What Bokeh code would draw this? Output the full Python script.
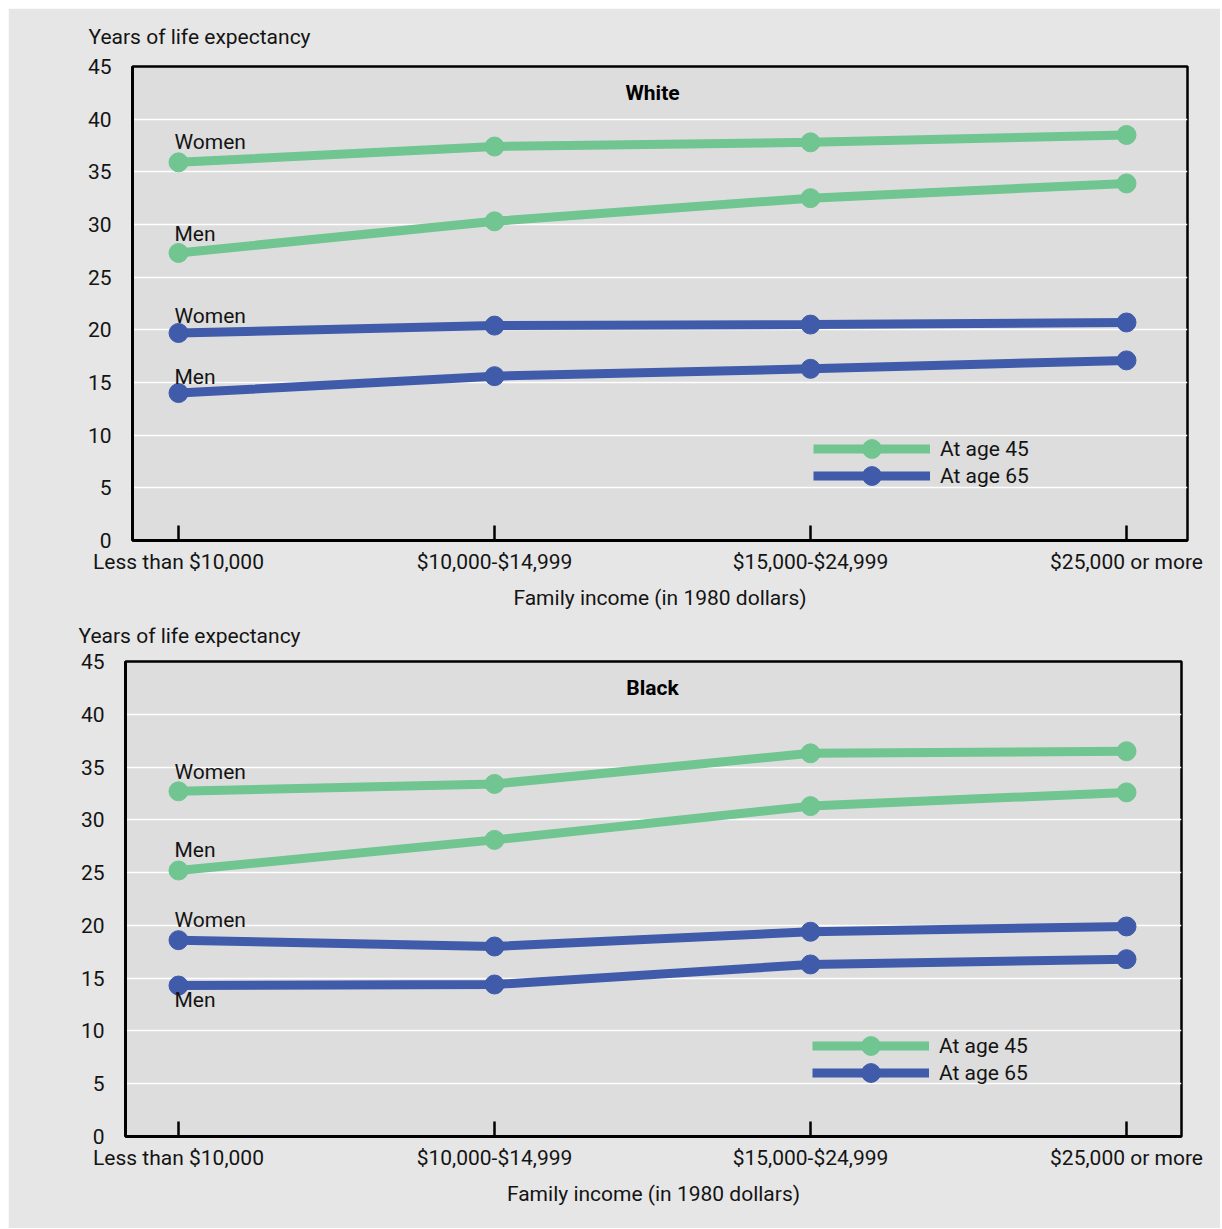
from bokeh.plotting import figure
from bokeh.models import Range1d, FixedTicker, ColumnDataSource, Label, Legend, LegendItem
from bokeh.core.properties import value
from bokeh.embed import file_html
from bokeh.resources import INLINE

# ---- data ----
income = ["Less than $10,000", "$10,000-$14,999", "$15,000-$24,999", "$25,000 or more"]
y_ticks = [0, 5, 10, 15, 20, 25, 30, 35, 40, 45]
grid_ticks = [5, 10, 15, 20, 25, 30, 35, 40]

white_women_45 = [35.9, 37.4, 37.8, 38.5]
white_men_45 = [27.3, 30.3, 32.5, 33.9]
white_women_65 = [19.7, 20.4, 20.5, 20.7]
white_men_65 = [14.0, 15.6, 16.3, 17.1]

black_women_45 = [32.7, 33.4, 36.3, 36.5]
black_men_45 = [25.2, 28.1, 31.3, 32.6]
black_women_65 = [18.6, 18.0, 19.4, 19.9]
black_men_65 = [14.3, 14.4, 16.3, 16.8]

series_labels = ["Women", "Men", "Women", "Men"]
legend_labels = ["At age 45", "At age 65"]
y_title = "Years of life expectancy"
x_title = "Family income (in 1980 dollars)"

# ---- style ----
FONT = "Roboto"
FS = "21px"
GREEN = "#70c590"
BLUE = "#3f5baa"
TXT = "#141414"
OUTER = "#e6e6e6"


def make_panel(title, women45, men45, women65, men65, width, height,
               borders, x_start, x_end, label_dy, legend_x, legend_y,
               title_offset, title_standoff, margin):
    bl, br, bt, bb = borders
    p = figure(width=width, height=height, output_backend="svg", toolbar_location=None,
               x_range=Range1d(x_start, x_end), y_range=Range1d(0, 45),
               min_border_left=bl, min_border_right=br, min_border_top=bt, min_border_bottom=bb)
    p.margin = margin
    p.background_fill_color = "#dddddd"
    p.border_fill_color = OUTER
    p.outline_line_color = "black"
    p.outline_line_width = 2.5

    p.title.text = y_title
    p.title.align = "left"
    p.title.offset = title_offset
    p.title.standoff = title_standoff
    p.title.vertical_align = "top"
    p.title.text_baseline = "middle"
    p.title.text_font = FONT
    p.title.text_font_size = FS
    p.title.text_font_style = "normal"
    p.title.text_color = TXT

    xs = list(range(len(income)))

    # axes
    p.xaxis.ticker = FixedTicker(ticks=xs)
    p.xaxis.major_label_overrides = {i: lab for i, lab in enumerate(income)}
    p.xaxis.axis_label = x_title
    p.yaxis.ticker = FixedTicker(ticks=y_ticks)
    for ax in (p.xaxis, p.yaxis):
        ax.axis_line_color = "black"
        ax.axis_line_width = 3
        ax.major_label_text_font = FONT
        ax.major_label_text_font_size = FS
        ax.major_label_text_color = TXT
        ax.minor_tick_line_color = None
    p.xaxis.major_tick_in = 15
    p.xaxis.major_tick_out = 0
    p.xaxis.major_tick_line_width = 2.5
    p.xaxis.major_tick_line_color = "black"
    p.xaxis.major_label_standoff = 9
    p.xaxis.axis_label_text_font = FONT
    p.xaxis.axis_label_text_font_size = FS
    p.xaxis.axis_label_text_font_style = "normal"
    p.xaxis.axis_label_text_color = TXT
    p.xaxis.axis_label_standoff = 9
    p.yaxis.major_tick_line_color = None
    p.yaxis.major_label_standoff = 15

    p.xgrid.grid_line_color = None
    p.ygrid.ticker = FixedTicker(ticks=grid_ticks)
    p.ygrid.grid_line_color = "white"
    p.ygrid.grid_line_width = 1.3

    renderers = {}
    for key, ys, color in (("w45", women45, GREEN), ("m45", men45, GREEN),
                           ("w65", women65, BLUE), ("m65", men65, BLUE)):
        src = ColumnDataSource(dict(x=xs, y=ys))
        ln = p.line("x", "y", source=src, line_color=color, line_width=9)
        sc = p.scatter("x", "y", source=src, size=19, fill_color=color, line_color=color)
        renderers[key] = (ln, sc)

    # series labels at first point
    lab_src = ColumnDataSource(dict(
        x=[0, 0, 0, 0],
        y=[women45[0], men45[0], women65[0], men65[0]],
        text=series_labels,
        dy=label_dy,
    ))
    p.text("x", "y", text="text", source=lab_src, x_offset=-4, y_offset="dy",
           text_font=value(FONT), text_font_size=FS, text_color=TXT,
           text_align="left", text_baseline="alphabetic")

    # panel title
    p.add_layout(Label(x=1.5, y=45, text=title, y_offset=-26, text_align="center",
                       text_baseline="middle", text_font=FONT, text_font_size=FS,
                       text_font_style="bold", text_color="black"))

    # legend: one single-item legend per row so the marker keeps its size
    for lab, key, ly in ((legend_labels[0], "w45", legend_y + 27), (legend_labels[1], "w65", legend_y)):
        legend = Legend(items=[LegendItem(label=lab, renderers=list(renderers[key]))],
                        location=(legend_x, ly))
        legend.background_fill_alpha = 0
        legend.border_line_color = None
        legend.padding = 0
        legend.margin = 0
        legend.spacing = 0
        legend.glyph_width = 117
        legend.glyph_height = 47
        legend.label_height = 47
        legend.label_standoff = 10
        legend.label_text_font = FONT
        legend.label_text_font_size = FS
        legend.label_text_color = TXT
        p.add_layout(legend, "center")
    return p


top = make_panel("White", white_women_45, white_men_45, white_women_65, white_men_65,
                 1212, 604, (124, 33, 58, 72), -0.1456, 3.193,
                 [-20, -19, -17, -16], 681, 41, -44, 31, (8, 0, 0, 8))
bottom = make_panel("Black", black_women_45, black_men_45, black_women_65, black_men_65,
                    1212, 617, (117, 39, 50, 92), -0.1677, 3.174,
                    [-19, -21, -20, 14], 687, 40, -47, 24, (-1, 0, 0, 8))

open("out.html", "w").write(file_html([top, bottom], INLINE))
